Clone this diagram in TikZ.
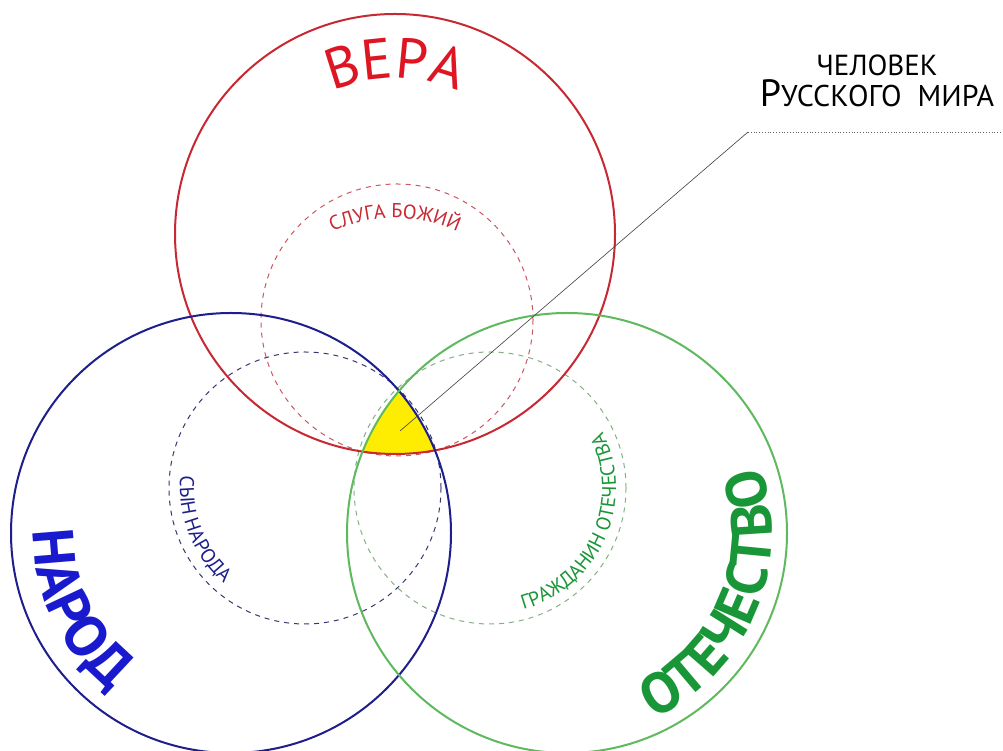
\documentclass[tikz,border=0pt]{standalone}
\usepackage{fontspec}
\setmainfont{PT Sans}
\usepackage{tikz}
\usetikzlibrary{decorations.text}

\definecolor{veracol}{RGB}{222,22,36}
\definecolor{ringred}{RGB}{200,40,50}
\definecolor{narodcol}{RGB}{25,25,205}
\definecolor{ringblue}{RGB}{30,30,140}
\definecolor{otchcol}{RGB}{25,150,55}
\definecolor{ringgreen}{RGB}{95,185,95}
\definecolor{dashred}{RGB}{205,85,95}
\definecolor{dashblue}{RGB}{55,55,115}
\definecolor{dashgreen}{RGB}{135,175,135}

\begin{document}
\begin{tikzpicture}[x=1pt,y=1pt,
  bigring/.style={line width=2},
  smallring/.style={line width=1,dash pattern=on 5pt off 5pt},
  arctext/.style={decorate,decoration={text along path,text align=center,text={#1}}}]

\useasboundingbox (0,0) rectangle (1003,751);
\fill [white] (0,0) rectangle (1003,751);

\coordinate (veraC) at (395,517);
\coordinate (narodC) at (231,218);
\coordinate (otchC) at (567,218);
\coordinate (slugaC) at (397,431);
\coordinate (synC) at (305,263);
\coordinate (grazhC) at (490,263);

% common part
\begin{scope}
\clip (narodC) circle (220);
\clip (otchC) circle (220);
\fill [yellow!95!orange] (veraC) circle (220);
\end{scope}

\draw [smallring,dashred] (slugaC) circle (136);
\draw [smallring,dashblue] (synC) circle (136);
\draw [smallring,dashgreen] (grazhC) circle (136);

\draw [bigring,ringred] (veraC) circle (220);
\draw [bigring,ringblue] (narodC) circle (220);
\draw [bigring,ringgreen] (otchC) circle (220);

% pointer to the label
\coordinate (spot) at (400,320);
\coordinate (kink) at (748,619);
\coordinate (tail) at (1003,619);
\draw [black!75,line width=0.6] (spot) -- (kink);
\draw [black!60,line width=0.8,dotted] (kink) -- (tail);

\node (who) at (877,686) {\fontsize{29}{30}\selectfont ЧЕЛОВЕК};
\node (world) at (877,658) {\fontsize{38}{38}\selectfont Р\fontsize{30}{30}\selectfont УССКОГО\ \ МИРА};

% words round the rings
\path [arctext={|\color{veracol}\fontsize{57}{60}\selectfont|ВЕРА}]
  (veraC) ++(135:156) arc [start angle=135,end angle=45,radius=156];
\path [arctext={|\color{narodcol}\bfseries\fontsize{58}{60}\selectfont|НАРОД}]
  (narodC) ++(156:198) arc [start angle=156,end angle=256,radius=198];
\path [arctext={|\color{otchcol}\bfseries\fontsize{57}{60}\selectfont|ОТЕЧЕСТВО}]
  (otchC) ++(-84:205) arc [start angle=-84,end angle=38,radius=205];

\path [arctext={|\color{ringred}\fontsize{20}{22}\selectfont|СЛУГА БОЖИЙ}]
  (395,383) ++(140:150) arc [start angle=140,end angle=40,radius=150];
\path [arctext={|\color{ringblue}\fontsize{20}{22}\selectfont|СЫН НАРОДА}]
  (synC) ++(152:125) arc [start angle=152,end angle=252,radius=125];
\path [arctext={|\color{otchcol}\fontsize{20}{22}\selectfont|ГРАЖДАНИН ОТЕЧЕСТВА}]
  (grazhC) ++(-100:126) arc [start angle=-100,end angle=52,radius=126];

\end{tikzpicture}
\end{document}
